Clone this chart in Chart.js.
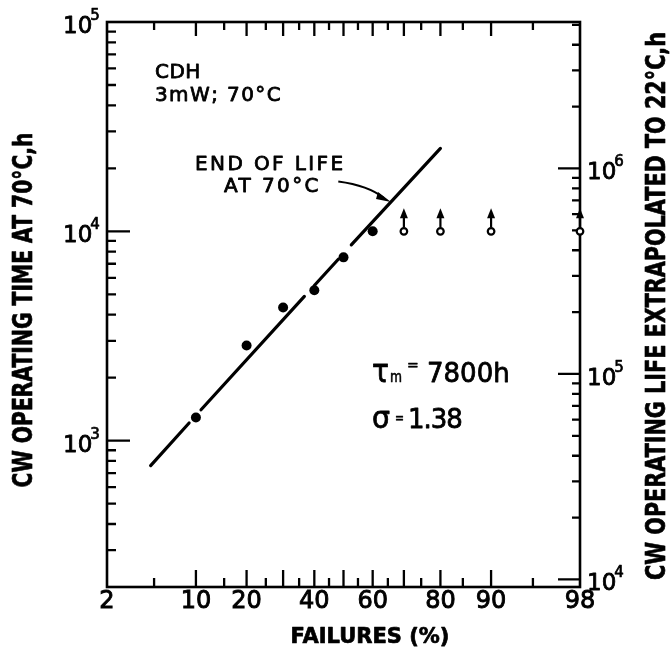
<!DOCTYPE html>
<html>
<head>
<meta charset="utf-8">
<style>
  html, body { margin: 0; padding: 0; background: #fff; }
  canvas { display: block; }
</style>
<script src="https://cdn.jsdelivr.net/npm/chart.js@4.4.1/dist/chart.umd.min.js"></script>
</head>
<body>
<canvas id="chart" width="671" height="650"></canvas>
<script>
// Failed devices: cumulative failure percentage and operating time at 70 °C (h)
const failedPct = [10, 20, 30, 40, 50, 60];
const failedHours = [1290, 2850, 4330, 5230, 7510, 10000];

// Devices still running when the test stopped (lower bounds, shown with arrows)
const survivorPct = [70, 80, 90, 98];
const survivorHours = [10000, 10000, 10000, 10000];

// End-of-life line at 70 °C, broken where it passes the data points
const fitPct = [4.7, 9.0, null, 10.8, 36.7, null, 40.0, 48.2, null, 52.7, 80];
const fitHours = [760, 1215, null, 1405, 4890, null, 5510, 7360, null, 8620, 24900];

// Tick labels
const xTickLabels = [2, 10, 20, 40, 60, 80, 90, 98];
const xMinorTicks = [5, 10, 15, 20, 25, 30, 35, 40, 45, 50, 55, 60, 65, 70, 75, 80, 85, 90, 95];
const leftDecades = [3, 4, 5];
const rightDecades = [4, 5, 6];

// Texts
const leftTitle = 'CW OPERATING TIME AT 70°C,h';
const rightTitle = 'CW OPERATING LIFE EXTRAPOLATED TO 22°C,h';
const bottomTitle = 'FAILURES (%)';

const FONT = '"DejaVu Sans", "Liberation Sans", sans-serif';

// Inverse of the standard normal CDF (Acklam's rational approximation)
function probit(p) {
  const a = [-3.969683028665376e+01, 2.209460984245205e+02, -2.759285104469687e+02, 1.383577518672690e+02, -3.066479806614716e+01, 2.506628277459239e+00];
  const b = [-5.447609879822406e+01, 1.615858368580409e+02, -1.556989798598866e+02, 6.680131188771972e+01, -1.328068155288572e+01];
  const c = [-7.784894002430293e-03, -3.223964580411365e-01, -2.400758277161838e+00, -2.549732539343734e+00, 4.374664141464968e+00, 2.938163982698783e+00];
  const d = [7.784695709041462e-03, 3.224671290700398e-01, 2.445134137142996e+00, 3.754408661907416e+00];
  const pl = 0.02425, ph = 1 - pl;
  let q, r;
  if (p < pl) {
    q = Math.sqrt(-2 * Math.log(p));
    return (((((c[0]*q + c[1])*q + c[2])*q + c[3])*q + c[4])*q + c[5]) / ((((d[0]*q + d[1])*q + d[2])*q + d[3])*q + 1);
  }
  if (p <= ph) {
    q = p - 0.5; r = q * q;
    return (((((a[0]*r + a[1])*r + a[2])*r + a[3])*r + a[4])*r + a[5]) * q / (((((b[0]*r + b[1])*r + b[2])*r + b[3])*r + b[4])*r + 1);
  }
  q = Math.sqrt(-2 * Math.log(1 - p));
  return -(((((c[0]*q + c[1])*q + c[2])*q + c[3])*q + c[4])*q + c[5]) / ((((d[0]*q + d[1])*q + d[2])*q + d[3])*q + 1);
}

// Normal-probability axis: values are percentages, spaced by their normal quantile
class ProbabilityScale extends Chart.Scale {
  static id = 'probability';
  static defaults = {};
  parse(raw) { return (raw === null || raw === undefined) ? null : +raw; }
  determineDataLimits() {
    this.min = this.options.min;
    this.max = this.options.max;
  }
  buildTicks() {
    return (this.options.tickValues || xTickLabels).map(v => ({ value: v }));
  }
  configure() {
    super.configure();
    this._zMin = probit(this.min / 100);
    this._zMax = probit(this.max / 100);
  }
  getLabelForValue(v) { return String(v); }
  getPixelForValue(v) {
    if (v === null || v === undefined || isNaN(v)) return NaN;
    const z = probit(v / 100);
    return this.getPixelForDecimal((z - this._zMin) / (this._zMax - this._zMin));
  }
  getValueForPixel(px) {
    const target = this._zMin + this.getDecimalForPixel(px) * (this._zMax - this._zMin);
    let lo = 1e-6, hi = 1 - 1e-6;
    for (let i = 0; i < 60; i++) {
      const mid = (lo + hi) / 2;
      if (probit(mid) < target) lo = mid; else hi = mid;
    }
    return 100 * (lo + hi) / 2;
  }
}
Chart.register(ProbabilityScale);

const pts = (xs, ys) => xs.map((x, i) => ({ x: x, y: ys[i] }));

// Frame and inward tick marks on all four sides
const framePlugin = {
  id: 'frame',
  beforeDatasetsDraw(chart) {
    const { ctx, chartArea: a, scales } = chart;
    const x = scales.x, yl = scales.y, yr = scales.y2;
    ctx.save();
    ctx.strokeStyle = '#000';
    ctx.lineCap = 'butt';
    ctx.lineWidth = 2.6;
    ctx.strokeRect(a.left, a.top, a.right - a.left, a.bottom - a.top);
    ctx.lineWidth = 2.3;
    ctx.beginPath();
    // bottom and top axes
    xMinorTicks.forEach(p => {
      const px = x.getPixelForValue(p);
      const major = p % 10 === 0;
      ctx.moveTo(px, a.bottom); ctx.lineTo(px, a.bottom - (major ? 17 : 9));
      ctx.moveTo(px, a.top); ctx.lineTo(px, a.top + (major ? 14 : 8));
    });
    // left log axis
    for (let e = 2; e <= 4; e++) {
      for (let m = 1; m <= 9; m++) {
        const v = m * Math.pow(10, e);
        if (v <= yl.min || v >= yl.max) continue;
        const py = yl.getPixelForValue(v);
        ctx.moveTo(a.left, py); ctx.lineTo(a.left + (m === 1 ? 23 : 9), py);
      }
    }
    // right log axis
    for (let e = 3; e <= 6; e++) {
      for (let m = 1; m <= 9; m++) {
        const v = m * Math.pow(10, e);
        if (v <= yr.min || v >= yr.max) continue;
        const py = yr.getPixelForValue(v);
        ctx.moveTo(a.right, py); ctx.lineTo(a.right - (m === 1 ? 22 : 8), py);
      }
    }
    ctx.stroke();
    ctx.restore();
  },
  afterDatasetsDraw(chart) {
    // upward arrows over the unfailed devices
    const { ctx } = chart;
    const meta = chart.getDatasetMeta(2);
    ctx.save();
    ctx.fillStyle = '#000';
    ctx.strokeStyle = '#000';
    ctx.lineWidth = 2.2;
    meta.data.forEach(pt => {
      const cx = pt.x, cy = pt.y;
      ctx.beginPath();
      ctx.moveTo(cx, cy - 4);
      ctx.lineTo(cx, cy - 14);
      ctx.stroke();
      ctx.beginPath();
      ctx.moveTo(cx, cy - 23);
      ctx.lineTo(cx - 4, cy - 13);
      ctx.lineTo(cx + 4, cy - 13);
      ctx.closePath();
      ctx.fill();
    });
    ctx.restore();
  }
};

// Filled text with a thin outline, for the heavier pen lettering
function ink(ctx, str, x, y, maxWidth, weight) {
  ctx.lineWidth = weight === undefined ? 0.8 : weight;
  ctx.lineJoin = 'round';
  if (maxWidth) {
    ctx.fillText(str, x, y, maxWidth);
    if (ctx.lineWidth > 0) ctx.strokeText(str, x, y, maxWidth);
  } else {
    ctx.fillText(str, x, y);
    if (ctx.lineWidth > 0) ctx.strokeText(str, x, y);
  }
}

function drawPower(ctx, x, yTick, exp) {
  ctx.font = '23px ' + FONT;
  ctx.textAlign = 'left';
  ctx.textBaseline = 'alphabetic';
  const base = yTick + 11;
  ink(ctx, '10', x, base);
  const w = ctx.measureText('10').width;
  ctx.font = '15px ' + FONT;
  ink(ctx, String(exp), x + w - 2, base - 13, 0, 0.7);
}

function spaced(ctx, str, x, y, font, spacing, align, weight) {
  ctx.font = font;
  ctx.letterSpacing = spacing + 'px';
  ctx.textAlign = align || 'left';
  ink(ctx, str, x, y, 0, weight);
  ctx.letterSpacing = '0px';
}

// Axis labels, titles and annotations
const textPlugin = {
  id: 'texts',
  afterDraw(chart) {
    const { ctx, scales } = chart;
    const x = scales.x, yl = scales.y, yr = scales.y2;
    ctx.save();
    ctx.fillStyle = '#000';
    ctx.strokeStyle = '#000';
    ctx.textBaseline = 'alphabetic';

    leftDecades.forEach(e => drawPower(ctx, 63, yl.getPixelForValue(Math.pow(10, e)), e));
    rightDecades.forEach(e => drawPower(ctx, 587, yr.getPixelForValue(Math.pow(10, e)), e));

    // axis titles
    ctx.font = 'bold 27px ' + FONT;
    ctx.textAlign = 'center';
    ctx.save();
    ctx.translate(32, 310);
    ctx.rotate(-Math.PI / 2);
    ink(ctx, leftTitle, 0, 0, 355, 0);
    ctx.restore();
    ctx.save();
    ctx.translate(665, 306);
    ctx.rotate(-Math.PI / 2);
    ink(ctx, rightTitle, 0, 0, 548, 0);
    ctx.restore();
    ctx.font = 'bold 21px ' + FONT;
    ink(ctx, bottomTitle, 370, 643, 0, 0);

    // sample description
    spaced(ctx, 'CDH', 155, 78, '20px ' + FONT, 0.5);
    spaced(ctx, '3mW; 70°C', 155, 101, '20px ' + FONT, 1.4);

    // end-of-life label and its pointer to the line
    spaced(ctx, 'END OF LIFE', 195, 170, '20px ' + FONT, 2.4);
    spaced(ctx, 'AT 70°C', 224, 192, '20px ' + FONT, 2.4);
    const sx = x.getPixelForValue(48.2), sy = yl.getPixelForValue(17300);
    const tx = x.getPixelForValue(66), ty = yl.getPixelForValue(13800);
    ctx.lineWidth = 2.2;
    ctx.beginPath();
    ctx.moveTo(sx, sy);
    ctx.quadraticCurveTo(sx + 30, sy + 4, tx - 7, ty - 4);
    ctx.stroke();
    ctx.beginPath();
    ctx.moveTo(tx, ty);
    ctx.lineTo(tx - 13, ty - 10);
    ctx.lineTo(tx - 15, ty - 3);
    ctx.closePath();
    ctx.fill();

    // distribution parameters
    ctx.textAlign = 'left';
    ctx.font = '32px ' + FONT;
    ink(ctx, 'τ', 372, 382, 17);
    ctx.font = '16px ' + FONT;
    ink(ctx, 'm', 390, 382, 12, 0.6);
    ctx.font = '14px ' + FONT;
    ink(ctx, '=', 407, 370, 0, 0.6);
    spaced(ctx, '7800h', 427, 382, '26px ' + FONT, 0);
    ctx.font = '30px ' + FONT;
    ink(ctx, 'σ', 372, 428, 18);
    ctx.font = '14px ' + FONT;
    ink(ctx, '=', 395, 423, 9, 0.6);
    spaced(ctx, '1.38', 408, 428, '26px ' + FONT, -1);
    ctx.restore();
  }
};

new Chart(document.getElementById('chart'), {
  type: 'scatter',
  data: {
    datasets: [
      {
        type: 'line',
        label: 'End of life at 70°C',
        data: pts(fitPct, fitHours),
        borderColor: '#000',
        borderWidth: 3.2,
        borderCapStyle: 'round',
        pointRadius: 0,
        spanGaps: false,
        fill: false,
        tension: 0,
        order: 2
      },
      {
        label: 'Failed',
        data: pts(failedPct, failedHours),
        pointRadius: 5,
        backgroundColor: '#000',
        borderWidth: 0,
        order: 0
      },
      {
        label: 'Running',
        data: pts(survivorPct, survivorHours),
        pointRadius: 3.3,
        backgroundColor: '#fff',
        borderColor: '#000',
        borderWidth: 2.2,
        clip: false,
        order: 0
      }
    ]
  },
  options: {
    responsive: false,
    animation: false,
    events: [],
    layout: { padding: { top: 22, left: 0, right: 0, bottom: 0 } },
    plugins: { legend: { display: false }, tooltip: { enabled: false } },
    scales: {
      x: {
        type: 'probability',
        position: 'bottom',
        min: 2,
        max: 98,
        tickValues: xTickLabels,
        grid: { display: false, drawTicks: false },
        border: { display: false },
        ticks: {
          autoSkip: false,
          maxRotation: 0,
          padding: 0,
          color: '#000',
          textStrokeColor: '#000',
          textStrokeWidth: 0.9,
          font: { family: 'DejaVu Sans', size: 24 },
          callback: v => String(v)
        },
        afterFit: s => { s.height = 63; }
      },
      y: {
        type: 'logarithmic',
        position: 'left',
        min: 200,
        max: 100000,
        grid: { display: false, drawTicks: false },
        border: { display: false },
        ticks: { display: false },
        afterFit: s => { s.width = 107; }
      },
      y2: {
        type: 'logarithmic',
        position: 'right',
        min: 9190,
        max: 5160000,
        grid: { display: false, drawTicks: false },
        border: { display: false },
        ticks: { display: false },
        afterFit: s => { s.width = 91; }
      }
    }
  },
  plugins: [framePlugin, textPlugin]
});
</script>
</body>
</html>
